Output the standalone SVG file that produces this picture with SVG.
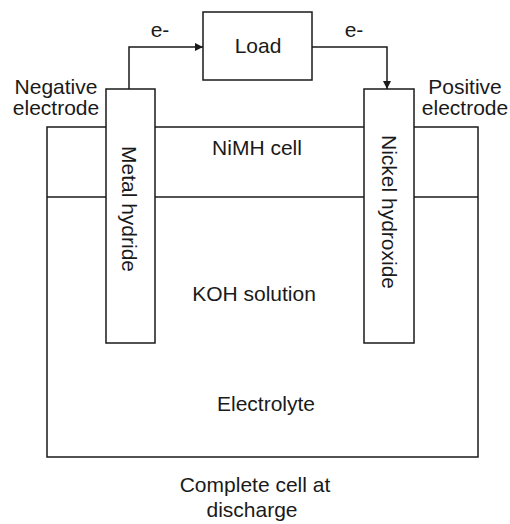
<svg xmlns="http://www.w3.org/2000/svg" width="510" height="524" viewBox="0 0 510 524">
<style>
.ln{fill:none;stroke:#1a1a1a;stroke-width:1.5}
.bx{fill:#fff;stroke:#1a1a1a;stroke-width:1.5}
text{font-family:"Liberation Sans",Arial,sans-serif;font-size:21px;fill:#1a1a1a;text-anchor:middle}
</style>
<defs>
<marker id="ah" viewBox="0 0 10 10" refX="10" refY="5" markerWidth="8" markerHeight="8" markerUnits="userSpaceOnUse" orient="auto">
<path d="M0,0 L10,5 L0,10 Z" fill="#1a1a1a"/>
</marker>
</defs>
<rect width="510" height="524" fill="#fff"/>
<g id="cell">
<rect class="bx" x="47" y="127" width="431" height="330"/>
<line class="ln" x1="47" y1="197" x2="478" y2="197"/>
<text x="257" y="155">NiMH cell</text>
<text x="254" y="301">KOH solution</text>
<text x="266" y="411">Electrolyte</text>
</g>
<g id="neg-electrode">
<rect class="bx" x="106" y="89" width="49" height="254"/>
<text transform="translate(122,209) rotate(90)">Metal hydride</text>
</g>
<g id="pos-electrode">
<rect class="bx" x="364" y="89" width="50" height="254"/>
<text transform="translate(382,212) rotate(90)">Nickel hydroxide</text>
</g>
<g id="load">
<rect class="bx" x="203" y="12" width="109" height="68"/>
<text x="258" y="53">Load</text>
</g>
<g id="connectors">
<path class="ln" d="M129,89 V47 H203" marker-end="url(#ah)"/>
<path class="ln" d="M312,47 H387 V89" marker-end="url(#ah)"/>
</g>
<g id="labels">
<text x="160" y="37">e-</text>
<text x="354" y="37">e-</text>
<text x="56" y="94">Negative</text>
<text x="56" y="115">electrode</text>
<text x="465" y="94">Positive</text>
<text x="465" y="115">electrode</text>
<text x="255" y="492">Complete cell at</text>
<text x="252" y="517">discharge</text>
</g>
</svg>
